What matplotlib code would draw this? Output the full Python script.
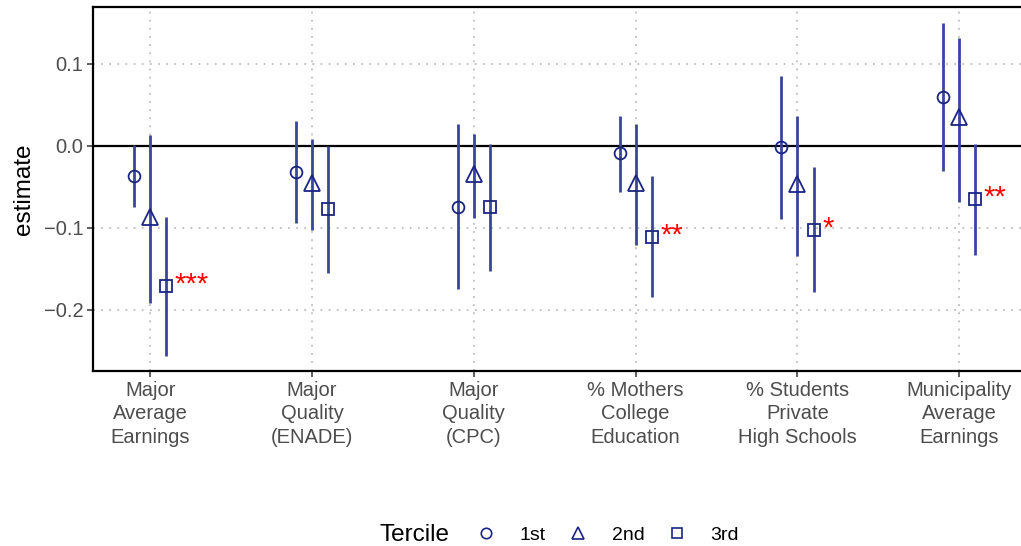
import matplotlib.pyplot as plt
import numpy as np

plt.rcParams['font.family'] = ['Liberation Sans', 'DejaVu Sans']

categories = ['Major\nAverage\nEarnings', 'Major\nQuality\n(ENADE)', 'Major\nQuality\n(CPC)',
              '% Mothers\nCollege\nEducation', '% Students\nPrivate\nHigh Schools',
              'Municipality\nAverage\nEarnings']
terciles = ['1st', '2nd', '3rd']

# estimates and 95% intervals, one list per tercile
est_1st = [-0.037, -0.032, -0.074, -0.009, -0.001, 0.060]
lo_1st = [-0.075, -0.094, -0.175, -0.056, -0.089, -0.030]
hi_1st = [0.001, 0.030, 0.027, 0.037, 0.085, 0.150]

est_2nd = [-0.087, -0.045, -0.034, -0.045, -0.046, 0.035]
lo_2nd = [-0.192, -0.102, -0.088, -0.121, -0.134, -0.068]
hi_2nd = [0.013, 0.009, 0.015, 0.027, 0.037, 0.132]

est_3rd = [-0.171, -0.077, -0.075, -0.111, -0.102, -0.065]
lo_3rd = [-0.256, -0.155, -0.152, -0.184, -0.178, -0.133]
hi_3rd = [-0.086, 0.000, 0.002, -0.037, -0.026, 0.003]

stars_3rd = ['***', '', '', '**', '*', '**']

series = [(est_1st, lo_1st, hi_1st, 'o'),
          (est_2nd, lo_2nd, hi_2nd, '^'),
          (est_3rd, lo_3rd, hi_3rd, 's')]

point_col = '#1B2585'
line_col = '#3A459C'
marker_size = {'o': 8.5, '^': 11, 's': 8.5}

fig = plt.figure(figsize=(10.21, 5.46), dpi=100)
ax = fig.add_axes([0.0911, 0.3205, 0.915, 0.6667])

x = np.arange(1, len(categories) + 1)
offsets = [-0.1, 0.0, 0.1]
handles = []
for (est, lo, hi, mk), off, lab in zip(series, offsets, terciles):
    xs = x + off
    ax.vlines(xs, lo, hi, color=line_col, lw=2.0, zorder=3)
    h, = ax.plot(xs, est, ls='none', marker=mk, ms=marker_size[mk],
                 mfc='none', mec=point_col, mew=1.3, zorder=4, label=lab)
    handles.append(h)

for xi, yi, s in zip(x + offsets[2], est_3rd, stars_3rd):
    if s:
        ax.annotate(s, (xi, yi), xytext=(6, 1), textcoords='offset points',
                    color='red', fontsize=21, va='center', ha='left')

ax.axhline(0, color='black', lw=1.6, zorder=2)

ax.set_xlim(0.646, 6.42)
ax.set_ylim(-0.2744, 0.1695)
ax.set_xticks(x)
ax.set_xticklabels(categories, fontsize=14.5, color='#4D4D4D', linespacing=1.3)
ax.set_yticks([-0.2, -0.1, 0.0, 0.1])
ax.set_yticklabels(['\u22120.2', '\u22120.1', '0.0', '0.1'], fontsize=14.5, color='#4D4D4D')
ax.set_ylabel('estimate', fontsize=17.5, labelpad=6)
ax.tick_params(axis='both', length=4, width=1.1, color='#333333', pad=3)
ax.grid(True, ls=(0, (1, 3.5)), color='#BEBEBE', lw=1.3)
for sp in ['left', 'top', 'bottom']:
    ax.spines[sp].set_linewidth(1.6)
ax.spines['right'].set_visible(False)

fig.text(0.372, 0.0, 'Tercile', fontsize=17.5, va='bottom', ha='left')
fig.legend(handles=[plt.Line2D([], [], ls='none', marker=h.get_marker(),
                               ms=9 if h.get_marker() == '^' else 7.5,
                               mfc='none', mec=point_col, mew=1.2) for h in handles],
           labels=terciles, ncol=3, loc='lower left', bbox_to_anchor=(0.447, -0.028),
           frameon=False, fontsize=14, handletextpad=1.15, columnspacing=1.05,
           handlelength=1.2)

fig.savefig('out.png', dpi=100)
